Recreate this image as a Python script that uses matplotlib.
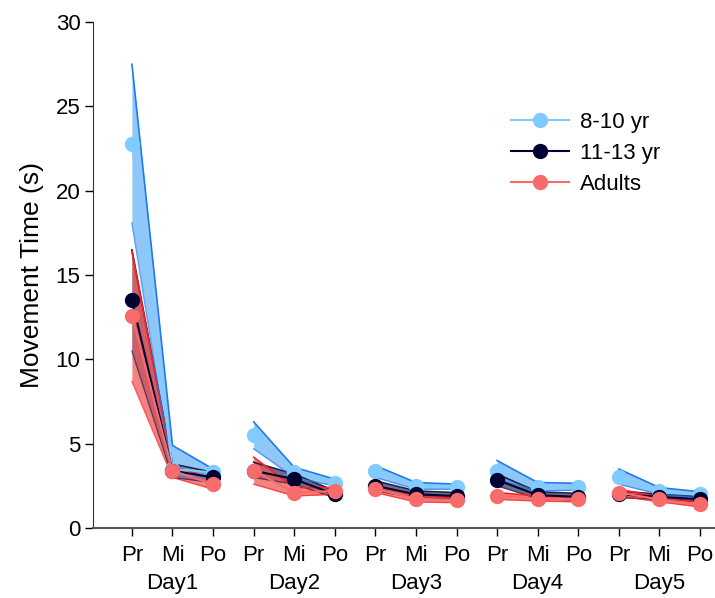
import matplotlib
matplotlib.use("Agg")
import matplotlib.pyplot as plt
import numpy as np

plt.rcParams["font.family"] = ["Liberation Sans", "DejaVu Sans"]

days = ["Day1", "Day2", "Day3", "Day4", "Day5"]
phases = ["Pr", "Mi", "Po"]

# means and band limits, 3 values per day (Pr, Mi, Po)
kids_mean = [22.8, 3.5, 3.3, 5.5, 3.3, 2.7, 3.4, 2.5, 2.45, 3.4, 2.45, 2.45, 3.0, 2.2, 2.0]
kids_lo = [18.1, 3.1, 3.0, 4.7, 3.0, 2.5, 3.0, 2.3, 2.3, 2.9, 2.2, 2.25, 2.6, 2.0, 1.8]
kids_hi = [27.5, 4.9, 3.5, 6.3, 3.6, 2.9, 3.7, 2.7, 2.6, 4.0, 2.7, 2.65, 3.5, 2.4, 2.15]

teen_mean = [13.5, 3.4, 3.0, 3.4, 2.9, 2.0, 2.5, 2.0, 1.9, 2.85, 1.95, 1.85, 2.0, 1.85, 1.7]
teen_lo = [10.5, 3.0, 2.7, 3.0, 2.6, 1.8, 2.2, 1.8, 1.7, 2.5, 1.75, 1.65, 1.8, 1.7, 1.55]
teen_hi = [16.5, 3.8, 3.3, 3.9, 3.2, 2.2, 2.8, 2.2, 2.1, 3.2, 2.15, 2.05, 2.2, 2.0, 1.85]

adult_mean = [12.6, 3.4, 2.6, 3.4, 2.1, 2.2, 2.3, 1.75, 1.65, 1.9, 1.75, 1.7, 2.1, 1.7, 1.4]
adult_lo = [8.7, 3.0, 2.3, 2.6, 1.9, 2.0, 2.1, 1.55, 1.5, 1.7, 1.6, 1.55, 1.9, 1.55, 1.25]
adult_hi = [16.4, 3.7, 2.9, 4.2, 2.4, 2.4, 2.5, 1.95, 1.8, 2.1, 1.9, 1.85, 2.3, 1.85, 1.55]

groups = [
    # label, mean, lo, hi, marker/line colour, band fill, band edge
    ("11-13 yr", teen_mean, teen_lo, teen_hi, "#000033", "#3c3c62", "#20204a"),
    ("Adults", adult_mean, adult_lo, adult_hi, "#f76b6b", "#f05a5a", "#ff2020"),
    ("8-10 yr", kids_mean, kids_lo, kids_hi, "#80ccff", "#6cb4f5", "#1a7cf0"),
]

fig = plt.figure(figsize=(7.15, 5.98), dpi=100)
ax = fig.add_axes([0.130, 0.117, 0.870, 0.846])

x = np.arange(len(days) * len(phases))

# bands first
for label, m, lo, hi, col, fill, edge in groups:
    for d in range(len(days)):
        s = slice(3 * d, 3 * d + 3)
        ax.fill_between(x[s], np.array(lo)[s], np.array(hi)[s], color=fill,
                        alpha=0.75, lw=0, zorder=2)
        ax.plot(x[s], np.array(hi)[s], color=edge, lw=1.2, zorder=3)
        ax.plot(x[s], np.array(lo)[s], color=edge, lw=1.0, alpha=0.7, zorder=3)

# mean lines + markers
handles = {}
order = [groups[2], groups[0], groups[1]]
for label, m, lo, hi, col, fill, edge in order:
    for d in range(len(days)):
        s = slice(3 * d, 3 * d + 3)
        h, = ax.plot(x[s], np.array(m)[s], color=col, lw=1.5, marker="o",
                     markersize=10, zorder=5)
    handles[label] = h

ax.legend([handles[k] for k in ["8-10 yr", "11-13 yr", "Adults"]],
          ["8-10 yr", "11-13 yr", "Adults"], loc="upper left",
          bbox_to_anchor=(0.64, 0.862), frameon=False, fontsize=16,
          handlelength=2.6, labelspacing=0.45, handletextpad=0.5)

ax.set_xlim(-0.96, 14.37)
ax.set_ylim(0, 30)
ax.set_yticks(range(0, 31, 5))
ax.tick_params(axis="y", labelsize=16, length=6, width=1, pad=3)
ax.set_ylabel("Movement Time (s)", fontsize=19, labelpad=8)

ax.set_xticks(x)
ax.set_xticklabels(phases * len(days), fontsize=16)
ax.tick_params(axis="x", length=6, width=1, pad=6)
for d, name in enumerate(days):
    ax.text(3 * d + 1, -0.088, name, transform=ax.get_xaxis_transform(),
            ha="center", va="top", fontsize=16)

for side in ["top", "right"]:
    ax.spines[side].set_visible(False)
ax.spines["left"].set_color("#333333")
ax.spines["bottom"].set_color("#555555")
ax.spines["bottom"].set_linewidth(1.5)

fig.savefig("out.png", dpi=100)
